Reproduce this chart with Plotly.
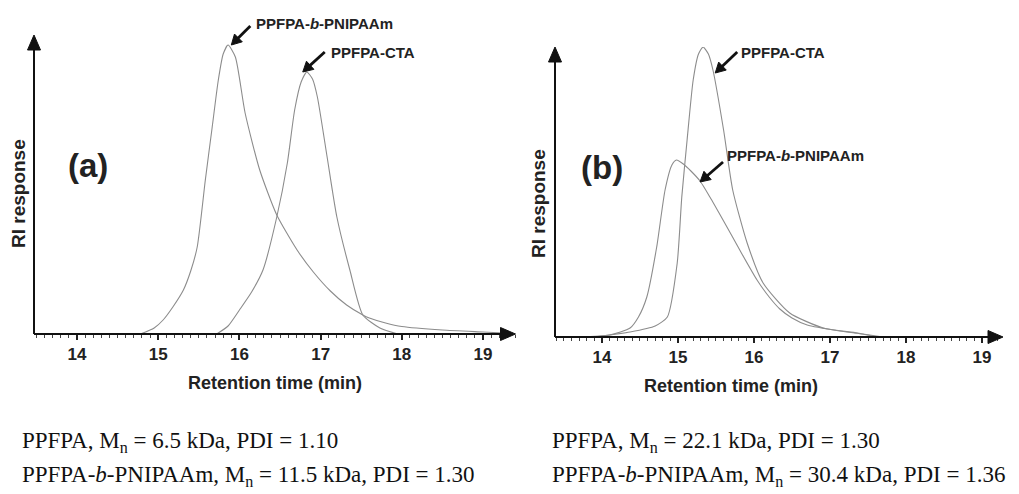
import math
import plotly.graph_objects as go

# ---------------- data ----------------
# Panel (a)
a_blk_t = [14.78, 14.95, 15.06, 15.18, 15.31, 15.40, 15.48, 15.58, 15.66, 15.74, 15.80, 15.86,
           15.95, 16.07, 16.25, 16.46, 16.71, 16.91, 17.12, 17.32, 17.52, 17.60, 17.80, 18.00,
           18.50, 19.00, 19.25]
a_blk_h = [0, 6, 14, 27, 44, 63, 87, 154, 204, 254, 280, 289,
           277, 221, 164, 119, 84, 62, 43, 29, 19, 16, 11, 7.5,
           4, 2, 1]
a_cta_t = [15.72, 15.86, 16.00, 16.15, 16.29, 16.46, 16.59, 16.68, 16.76, 16.83, 16.90, 16.96,
           17.08, 17.20, 17.36, 17.52, 17.73, 17.95]
a_cta_h = [0, 8, 24, 42, 64, 117, 171, 224, 252, 262, 255, 237,
           177, 117, 64, 19, 6, 0]
# Panel (b)
b_blk_t = [13.70, 14.10, 14.37, 14.48, 14.59, 14.72, 14.83, 14.92, 14.98, 15.07, 15.17, 15.29,
           15.42, 15.60, 15.82, 16.04, 16.20, 16.34, 16.50, 16.70, 17.13, 17.43, 17.70]
b_blk_h = [0, 2, 9, 20, 40, 90, 147, 172, 177, 173, 166, 156,
           140, 116, 86, 57, 40, 28, 19, 12, 6, 3, 0]
b_cta_t = [13.90, 14.37, 14.70, 14.86, 14.99, 15.05, 15.12, 15.20, 15.27, 15.33, 15.40, 15.46,
           15.60, 15.72, 15.91, 16.12, 16.47, 16.91, 17.36, 17.62]
b_cta_h = [0, 5, 11, 20, 74, 140, 197, 257, 283, 290, 283, 267,
           207, 147, 94, 54, 24, 9, 4, 0]

tick_vals = [14, 15, 16, 17, 18, 19]
tick_text = ["14", "15", "16", "17", "18", "19"]

x_title = "Retention time (min)"
y_title = "RI response"
lbl_blk = "PPFPA-<i>b</i>-PNIPAAm"
lbl_cta = "PPFPA-CTA"
caption_a = ["PPFPA, M<sub>n</sub> = 6.5 kDa, PDI = 1.10",
             "PPFPA-<i>b</i>-PNIPAAm, M<sub>n</sub> = 11.5 kDa, PDI = 1.30"]
caption_b = ["PPFPA, M<sub>n</sub> = 22.1 kDa, PDI = 1.30",
             "PPFPA-<i>b</i>-PNIPAAm, M<sub>n</sub> = 30.4 kDa, PDI = 1.36"]

# ---------------- layout geometry ----------------
# the page body has an 8px margin, so the figure is drawn 8px in and 8px down
OFF = 8
W, H = 1019 - OFF, 494 - OFF
def px(x):
    return (x - OFF) / W
def py(y):
    return 1 - (y - OFF) / H

xr_a = [13.47, 19.40]
yr_a = [0, 299]
xr_b = [13.382, 19.276]
yr_b = [0, 290]

# panel frames in reference pixels: left, right, bottom (baseline), top
PAN_A = (34, 515.5, 334, 35)
PAN_B = (555, 1003, 337, 47)

SANS = "Liberation Sans, Arial, sans-serif"
SERIF = "Liberation Serif, Times New Roman, serif"
LINE = "#8c8c8c"
INK = "#111111"

fig = go.Figure()
for t, h, xa, ya in [(a_blk_t, a_blk_h, "x", "y"), (a_cta_t, a_cta_h, "x", "y"),
                     (b_blk_t, b_blk_h, "x2", "y2"), (b_cta_t, b_cta_h, "x2", "y2")]:
    fig.add_trace(go.Scatter(x=t, y=h, xaxis=xa, yaxis=ya, mode="lines",
                             line=dict(color=LINE, width=1.1, shape="spline", smoothing=0.6),
                             showlegend=False, hoverinfo="skip", cliponaxis=False))

def xaxis(dom, rng):
    return dict(domain=dom, range=rng, showgrid=False, zeroline=False, showline=False,
                tickvals=tick_vals, ticktext=tick_text, ticks="outside", ticklen=5,
                tickwidth=1.5, tickcolor="#222",
                minor=dict(dtick=0.1, tick0=14, ticks="outside", ticklen=3, tickwidth=1, tickcolor="#444"),
                tickfont=dict(family=SANS, size=17, color="#222", weight="bold"),
                fixedrange=True)

def yaxis(dom, rng, anchor):
    return dict(domain=dom, range=rng, showgrid=False, zeroline=False, showline=False,
                showticklabels=False, ticks="", anchor=anchor, fixedrange=True)

fig.update_layout(
    width=W, height=H, margin=dict(l=0, r=0, t=0, b=0),
    paper_bgcolor="white", plot_bgcolor="white",
    xaxis=dict(**xaxis([px(PAN_A[0]), px(PAN_A[1])], xr_a), anchor="y"),
    yaxis=yaxis([py(PAN_A[2]), py(PAN_A[3])], yr_a, "x"),
    xaxis2=dict(**xaxis([px(PAN_B[0]), px(PAN_B[1])], xr_b), anchor="y2"),
    yaxis2=yaxis([py(PAN_B[2]), py(PAN_B[3])], yr_b, "x2"),
)

def to_paper(pan, xr, yr, xv, yv):
    """Map a data point of a panel to paper coordinates (so shapes are not clipped)."""
    l, r, b, t = pan
    xpix = l + (xv - xr[0]) / (xr[1] - xr[0]) * (r - l)
    ypix = b - (yv - yr[0]) / (yr[1] - yr[0]) * (b - t)
    return px(xpix), py(ypix)

shapes = []

def arrow(hx, hy, dx, dy, lw, head_len, head_w):
    """Arrow whose tip sits at paper point (hx, hy); tail is offset (dx, dy) pixels (y up)."""
    L = math.hypot(dx, dy)
    ux, uy = dx / L, dy / L
    bx, by = head_len * ux, head_len * uy
    pxp, pyp = -uy * head_w, ux * head_w
    common = dict(xref="paper", yref="paper", xsizemode="pixel", ysizemode="pixel",
                  xanchor=hx, yanchor=hy, layer="above")
    shapes.append(dict(type="path", path=f"M{bx*0.8:.2f},{by*0.8:.2f} L{dx:.2f},{dy:.2f}",
                       line=dict(color=INK, width=lw), **common))
    shapes.append(dict(type="path",
                       path=f"M0,0 L{bx + pxp:.2f},{by + pyp:.2f} L{bx - pxp:.2f},{by - pyp:.2f} Z",
                       fillcolor=INK, line=dict(color=INK, width=1), **common))

# axis arrows
for l, r, b, t in [PAN_A, PAN_B]:
    arrow(px(r), py(b), -(r - l), 0, 2, 15, 6.5)
    arrow(px(l), py(t), 0, -(b - t), 2, 15, 6.5)

# peak label pointers (tip on the curve, tail offset in pixels)
for pan, xr, yr, hx, hy, dx, dy in [(PAN_A, xr_a, yr_a, 15.90, 289, 19, 19),
                                    (PAN_A, xr_a, yr_a, 16.78, 262, 22, 20),
                                    (PAN_B, xr_b, yr_b, 15.49, 264, 22, 21),
                                    (PAN_B, xr_b, yr_b, 15.29, 155, 23, 20)]:
    ax_, ay_ = to_paper(pan, xr, yr, hx, hy)
    arrow(ax_, ay_, dx, dy, 2.8, 10, 5.5)

fig.update_layout(shapes=shapes)

ann = []
# peak label texts
lab_font = dict(family=SANS, size=15, color="#222", weight="bold")
for txt, x, y in [(lbl_blk, 254, 24), (lbl_cta, 329, 53), (lbl_cta, 739, 53), (lbl_blk, 725, 156)]:
    ann.append(dict(xref="paper", yref="paper", x=px(x), y=py(y), text=txt, showarrow=False,
                    xanchor="left", yanchor="middle", font=lab_font))

# panel letters
for txt, x, y in [("(a)", 88, 165), ("(b)", 602, 167)]:
    ann.append(dict(xref="paper", yref="paper", x=px(x), y=py(y), text=txt, showarrow=False,
                    xanchor="center", yanchor="middle",
                    font=dict(family=SANS, size=33, color="#222", weight="bold")))

# axis titles
for x, y in [(275, 383), (731, 386)]:
    ann.append(dict(xref="paper", yref="paper", x=px(x), y=py(y), text=x_title, showarrow=False,
                    xanchor="center", yanchor="middle",
                    font=dict(family=SANS, size=18, color="#222", weight="bold")))
for x, y in [(19, 194), (539, 204)]:
    ann.append(dict(xref="paper", yref="paper", x=px(x), y=py(y), text=y_title, showarrow=False,
                    textangle=-90, xanchor="center", yanchor="middle",
                    font=dict(family=SANS, size=19, color="#222", weight="bold")))

# captions
for lines, x in [(caption_a, 20), (caption_b, 550)]:
    for line, y in zip(lines, [442, 476]):
        ann.append(dict(xref="paper", yref="paper", x=px(x), y=py(y), text=line, showarrow=False,
                        xanchor="left", yanchor="middle",
                        font=dict(family=SERIF, size=23, color="#111")))

fig.update_layout(annotations=ann)
fig.write_html("out.html")
